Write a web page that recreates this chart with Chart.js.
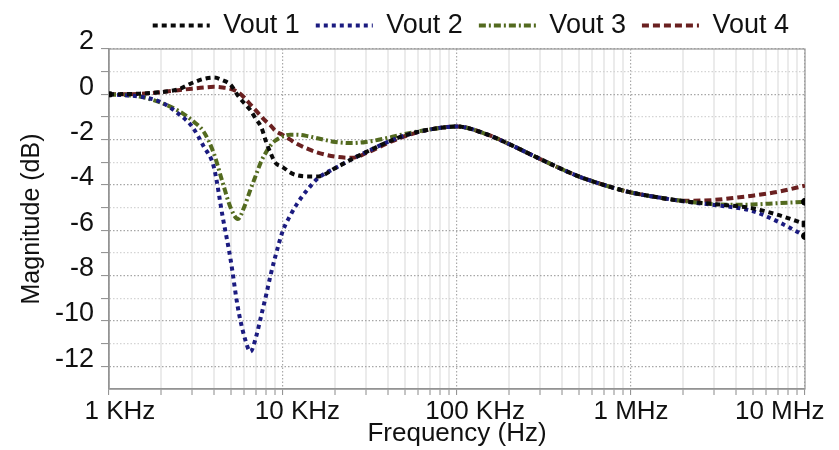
<!DOCTYPE html>
<html>
<head>
<meta charset="utf-8">
<script src="https://cdn.jsdelivr.net/npm/chart.js@4.4.1/dist/chart.umd.min.js"></script>
<style>
  html, body { margin: 0; padding: 0; background: #ffffff; }
  #wrap { width: 839px; height: 450px; }
</style>
</head>
<body>
<div id="wrap"><canvas id="c" width="839" height="450"></canvas></div>
<script>
// ---------------- DATA ----------------
const freqHz = [1000, 1500, 2000, 2500, 3000, 3500, 4000, 4500, 5000, 5500, 6000, 6500, 7000, 7500,
  8000, 8500, 9000, 10000, 11000, 12000, 14000, 16000, 20000, 25000, 30000, 40000, 50000, 70000,
  100000, 150000, 200000, 300000, 500000, 700000, 1000000, 1500000, 2000000, 3000000, 4000000,
  5000000, 7000000, 10000000];

const vout1 = [0, 0.03, 0.1, 0.22, 0.5, 0.68, 0.74, 0.62, 0.42, -0.05, -0.4, -0.7, -1.1, -1.45,
  -2.1, -2.6, -3.0, -3.22, -3.45, -3.57, -3.62, -3.62, -3.25, -2.85, -2.55, -2.1, -1.82, -1.55,
  -1.42, -1.78, -2.2, -2.85, -3.62, -4.0, -4.33, -4.57, -4.71, -4.84, -4.93, -5.03, -5.32, -5.72];

const vout2 = [0, -0.1, -0.35, -0.85, -1.42, -2.3, -3.2, -5.4, -7.3, -9.4, -10.7, -11.35, -10.7, -9.75,
  -8.85, -7.95, -7.2, -6.0, -5.35, -4.85, -4.15, -3.68, -3.25, -2.85, -2.55, -2.1, -1.82, -1.55,
  -1.42, -1.78, -2.2, -2.85, -3.62, -4.0, -4.33, -4.57, -4.72, -4.88, -5.0, -5.15, -5.62, -6.25];

const vout3 = [0, -0.1, -0.38, -0.72, -1.15, -1.65, -2.6, -3.9, -5.0, -5.5, -4.95, -4.2, -3.55, -2.95,
  -2.55, -2.25, -2.05, -1.85, -1.78, -1.78, -1.85, -1.95, -2.1, -2.15, -2.1, -1.92, -1.75, -1.55,
  -1.42, -1.78, -2.2, -2.85, -3.62, -4.0, -4.33, -4.57, -4.71, -4.85, -4.87, -4.86, -4.8, -4.74];

const vout4 = [0, 0.02, 0.1, 0.18, 0.25, 0.3, 0.33, 0.3, 0.24, 0.1, -0.15, -0.45, -0.72, -0.98,
  -1.2, -1.38, -1.6, -1.8, -2.0, -2.18, -2.42, -2.58, -2.75, -2.8, -2.6, -2.15, -1.85, -1.55,
  -1.42, -1.78, -2.2, -2.85, -3.62, -4.0, -4.33, -4.57, -4.7, -4.66, -4.56, -4.47, -4.3, -4.03];

const seriesNames = ['Vout 1', 'Vout 2', 'Vout 3', 'Vout 4'];

// x axis: grid values (1-9 per decade) and decade labels
const xGridValues = [1e3, 2e3, 3e3, 4e3, 5e3, 6e3, 7e3, 8e3, 9e3,
  1e4, 2e4, 3e4, 4e4, 5e4, 6e4, 7e4, 8e4, 9e4,
  1e5, 2e5, 3e5, 4e5, 5e5, 6e5, 7e5, 8e5, 9e5,
  1e6, 2e6, 3e6, 4e6, 5e6, 6e6, 7e6, 8e6, 9e6, 1e7];
const xLabelValues = [1e3, 1e4, 1e5, 1e6, 1e7];
const xLabelTexts = ['1 KHz', '10 KHz', '100 KHz', '1 MHz', '10 MHz'];

// y axis: grid values and labelled values
const yGridValues = [-12, -11, -10, -9, -8, -7, -6, -5, -4, -3, -2, -1, 0, 1, 2];
const yLabelValues = [-12, -10, -8, -6, -4, -2, 0, 2];

// ---------------- STYLE ----------------
const FONT = "'Liberation Sans', Arial, sans-serif";
Chart.defaults.font.family = FONT;
const styles = [
  { color: '#0a0a0a', dash: [5, 4], radius: [3.5, 4], pstyle: 'rect' },
  { color: '#1b1b80', dash: [4, 4], radius: [0, 3.5], pstyle: 'circle' },
  { color: '#536a1f', dash: [7, 3, 2, 3], radius: [0, 3.5], pstyle: 'circle' },
  { color: '#6a2020', dash: [7, 4], radius: [0, 0], pstyle: 'circle' }
];
// horizontal shift of x tick labels, in spaces (negative = trailing)
const xLabelSpaces = [3, 4, 5, 0, -7];

const allValues = [vout1, vout2, vout3, vout4];
const datasets = allValues.map((vals, s) => {
  const st = styles[s];
  const n = freqHz.length;
  return {
    label: seriesNames[s],
    data: freqHz.map((f, i) => ({ x: f, y: vals[i] })),
    borderColor: st.color,
    backgroundColor: st.color,
    borderWidth: 4,
    borderDash: st.dash,
    borderCapStyle: 'butt',
    fill: false,
    cubicInterpolationMode: 'monotone',
    pointRadius: freqHz.map((f, i) => i === 0 ? st.radius[0] : (i === n - 1 ? st.radius[1] : 0)),
    pointStyle: st.pstyle,
    pointBackgroundColor: '#000',
    pointBorderColor: '#000',
    pointBorderWidth: 1
  };
});

const isDecade = (v) => Math.abs(Math.log10(v) - Math.round(Math.log10(v))) < 1e-9;

const framePlugin = {
  id: 'frame',
  beforeDatasetsDraw(chart) {
    const { ctx, chartArea: a } = chart;
    ctx.save();
    ctx.strokeStyle = '#9a9a9a';
    ctx.lineWidth = 1.2;
    ctx.strokeRect(a.left, a.top, a.right - a.left, a.bottom - a.top);
    ctx.restore();
  }
};

new Chart(document.getElementById('c'), {
  type: 'line',
  data: { datasets },
  options: {
    responsive: false,
    animation: false,
    devicePixelRatio: 1,
    layout: { padding: { left: 20, right: 34, top: -4, bottom: 2 } },
    plugins: {
      tooltip: { enabled: false },
      legend: {
        position: 'top',
        align: 'end',
        labels: {
          usePointStyle: true,
          pointStyle: 'line',
          pointStyleWidth: 57,
          padding: 16,
          color: '#111',
          font: { family: FONT, size: 27 },
          generateLabels: (chart) => chart.data.datasets.map((ds, i) => ({
            text: ds.label,
            fillStyle: ds.borderColor,
            strokeStyle: ds.borderColor,
            lineWidth: ds.borderWidth,
            lineDash: ds.borderDash,
            lineCap: 'butt',
            pointStyle: 'line',
            hidden: false,
            fontColor: '#111',
            datasetIndex: i
          }))
        }
      }
    },
    scales: {
      x: {
        type: 'logarithmic',
        min: 1000,
        max: 1e7,
        afterBuildTicks: (s) => { s.ticks = xGridValues.map(v => ({ value: v })); },
        afterFit: (s) => { s.paddingLeft = 0; s.paddingRight = 0; },
        ticks: {
          autoSkip: false,
          maxRotation: 0,
          minRotation: 0,
          padding: 4,
          color: '#111',
          font: { family: FONT, size: 26, lineHeight: 1 },
          callback: (v) => {
            const k = xLabelValues.findIndex(x => Math.abs(x - v) < 1e-6 * x);
            if (k < 0) return '';
            const n = xLabelSpaces[k];
            return n >= 0 ? ' '.repeat(n) + xLabelTexts[k] : xLabelTexts[k] + ' '.repeat(-n);
          }
        },
        grid: {
          color: (c) => (c.tick && isDecade(c.tick.value)) ? '#a9a9a9' : '#ebebeb',
          lineWidth: (c) => (c.tick && isDecade(c.tick.value)) ? 1.2 : 2,
          tickLength: 6,
          tickColor: '#8a8a8a',
          tickWidth: 1
        },
        border: {
          display: true,
          color: '#8a8a8a',
          width: 1.5,
          dash: (c) => (c.tick && isDecade(c.tick.value)) ? [1.5, 2] : []
        },
        title: {
          display: true,
          text: 'Frequency (Hz)',
          color: '#111',
          font: { family: FONT, size: 26, lineHeight: 1 },
          padding: { top: -8, bottom: 1 }
        }
      },
      y: {
        type: 'linear',
        min: -13,
        max: 2,
        afterBuildTicks: (s) => { s.ticks = yGridValues.map(v => ({ value: v })); },
        ticks: {
          autoSkip: false,
          padding: 7,
          labelOffset: -7,
          color: '#111',
          font: { family: FONT, size: 27, lineHeight: 1 },
          callback: (v) => yLabelValues.includes(v) ? String(v) : ''
        },
        grid: {
          color: (c) => (c.tick && yLabelValues.includes(c.tick.value)) ? '#a6a6a6' : '#d4d4d4',
          lineWidth: 1.2,
          tickLength: 8,
          tickColor: '#8a8a8a',
          tickWidth: 1
        },
        border: {
          display: true,
          color: '#8a8a8a',
          width: 1.5,
          dash: (c) => c.tick ? [1.5, 2] : []
        },
        title: {
          display: true,
          text: 'Magnitude (dB)',
          color: '#111',
          font: { family: FONT, size: 25, lineHeight: 1 },
          padding: { top: 0, bottom: 3 }
        }
      }
    }
  },
  plugins: [framePlugin]
});
</script>
</body>
</html>
